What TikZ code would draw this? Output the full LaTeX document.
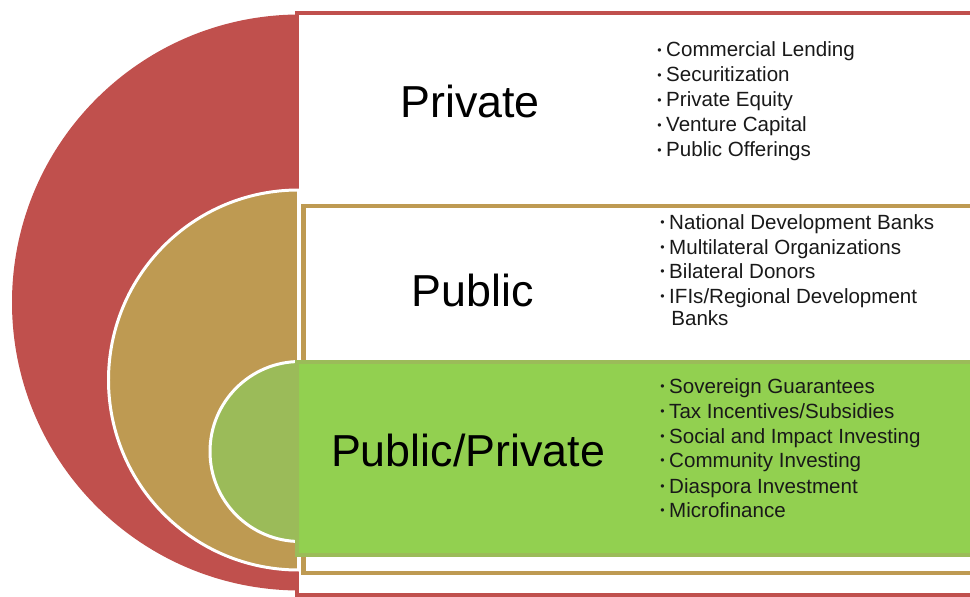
\documentclass[tikz,border=0pt]{standalone}
\usepackage{fontspec}
\setmainfont{Liberation Sans}
\definecolor{redc}{HTML}{C0504D}
\definecolor{goldc}{HTML}{BE9A52}
\definecolor{greend}{HTML}{9BBB59}
\definecolor{greenr}{HTML}{92D050}
\newcommand\bul{\raisebox{1.6pt}{\fontsize{7pt}{7pt}\selectfont •}\hspace{2.6pt}}
\begin{document}
\begin{tikzpicture}[x=0.02cm,y=0.02cm,
  title/.style={font=\fontsize{25.5pt}{28pt}\selectfont, anchor=base, inner sep=0pt},
  item/.style={font=\fontsize{11.7pt}{13pt}\selectfont, anchor=base west, inner sep=0pt, text=black!90}]
\useasboundingbox (0,0) rectangle (970,596);
\clip (0,0) rectangle (970,596);
% outer red half disc and frame
\fill[redc] (300,581.5) arc[start angle=90,end angle=270,radius=288] -- cycle;
\draw[redc, line width=2.8pt, fill=white] (297,583) rectangle (1000,0.5);
% gold half disc and frame
\filldraw[fill=goldc, draw=white, line width=1.7pt] (298.5,406) arc[start angle=90,end angle=270,radius=190] -- cycle;
\draw[goldc, line width=2.8pt, fill=white] (303.5,390) rectangle (1000,23);
% green half disc and band
\filldraw[fill=greend, draw=white, line width=1.7pt] (300,234.5) arc[start angle=90,end angle=270,radius=90] -- cycle;
\draw[greend, line width=2.3pt, fill=greenr] (297,234) rectangle (1000,41);
% titles
\node[title] (tpriv) at (470,479) {Private};
\node[title] (tpub) at (473,290) {Public};
\node[title] (tpp) at (468,130) {Public/Private};
% private list
\node[item] (p1) at (657,539) {\bul Commercial Lending};
\node[item] (p2) at (657,514) {\bul Securitization};
\node[item] (p3) at (657,489) {\bul Private Equity};
\node[item] (p4) at (657,464) {\bul Venture Capital};
\node[item] (p5) at (657,439) {\bul Public Offerings};
% public list
\node[item] (u1) at (660,367) {\bul National Development Banks};
\node[item] (u2) at (660,341.5) {\bul Multilateral Organizations};
\node[item] (u3) at (660,317.5) {\bul Bilateral Donors};
\node[item] (u4) at (660,292.5) {\bul IFIs/Regional Development};
\node[item] (u5) at (671,271) {Banks};
% public/private list
\node[item] (g1) at (660,203) {\bul Sovereign Guarantees};
\node[item] (g2) at (660,178) {\bul Tax Incentives/Subsidies};
\node[item] (g3) at (660,153) {\bul Social and Impact Investing};
\node[item] (g4) at (660,129) {\bul Community Investing};
\node[item] (g5) at (660,103) {\bul Diaspora Investment};
\node[item] (g6) at (660,79) {\bul Microfinance};
\end{tikzpicture}
\end{document}
